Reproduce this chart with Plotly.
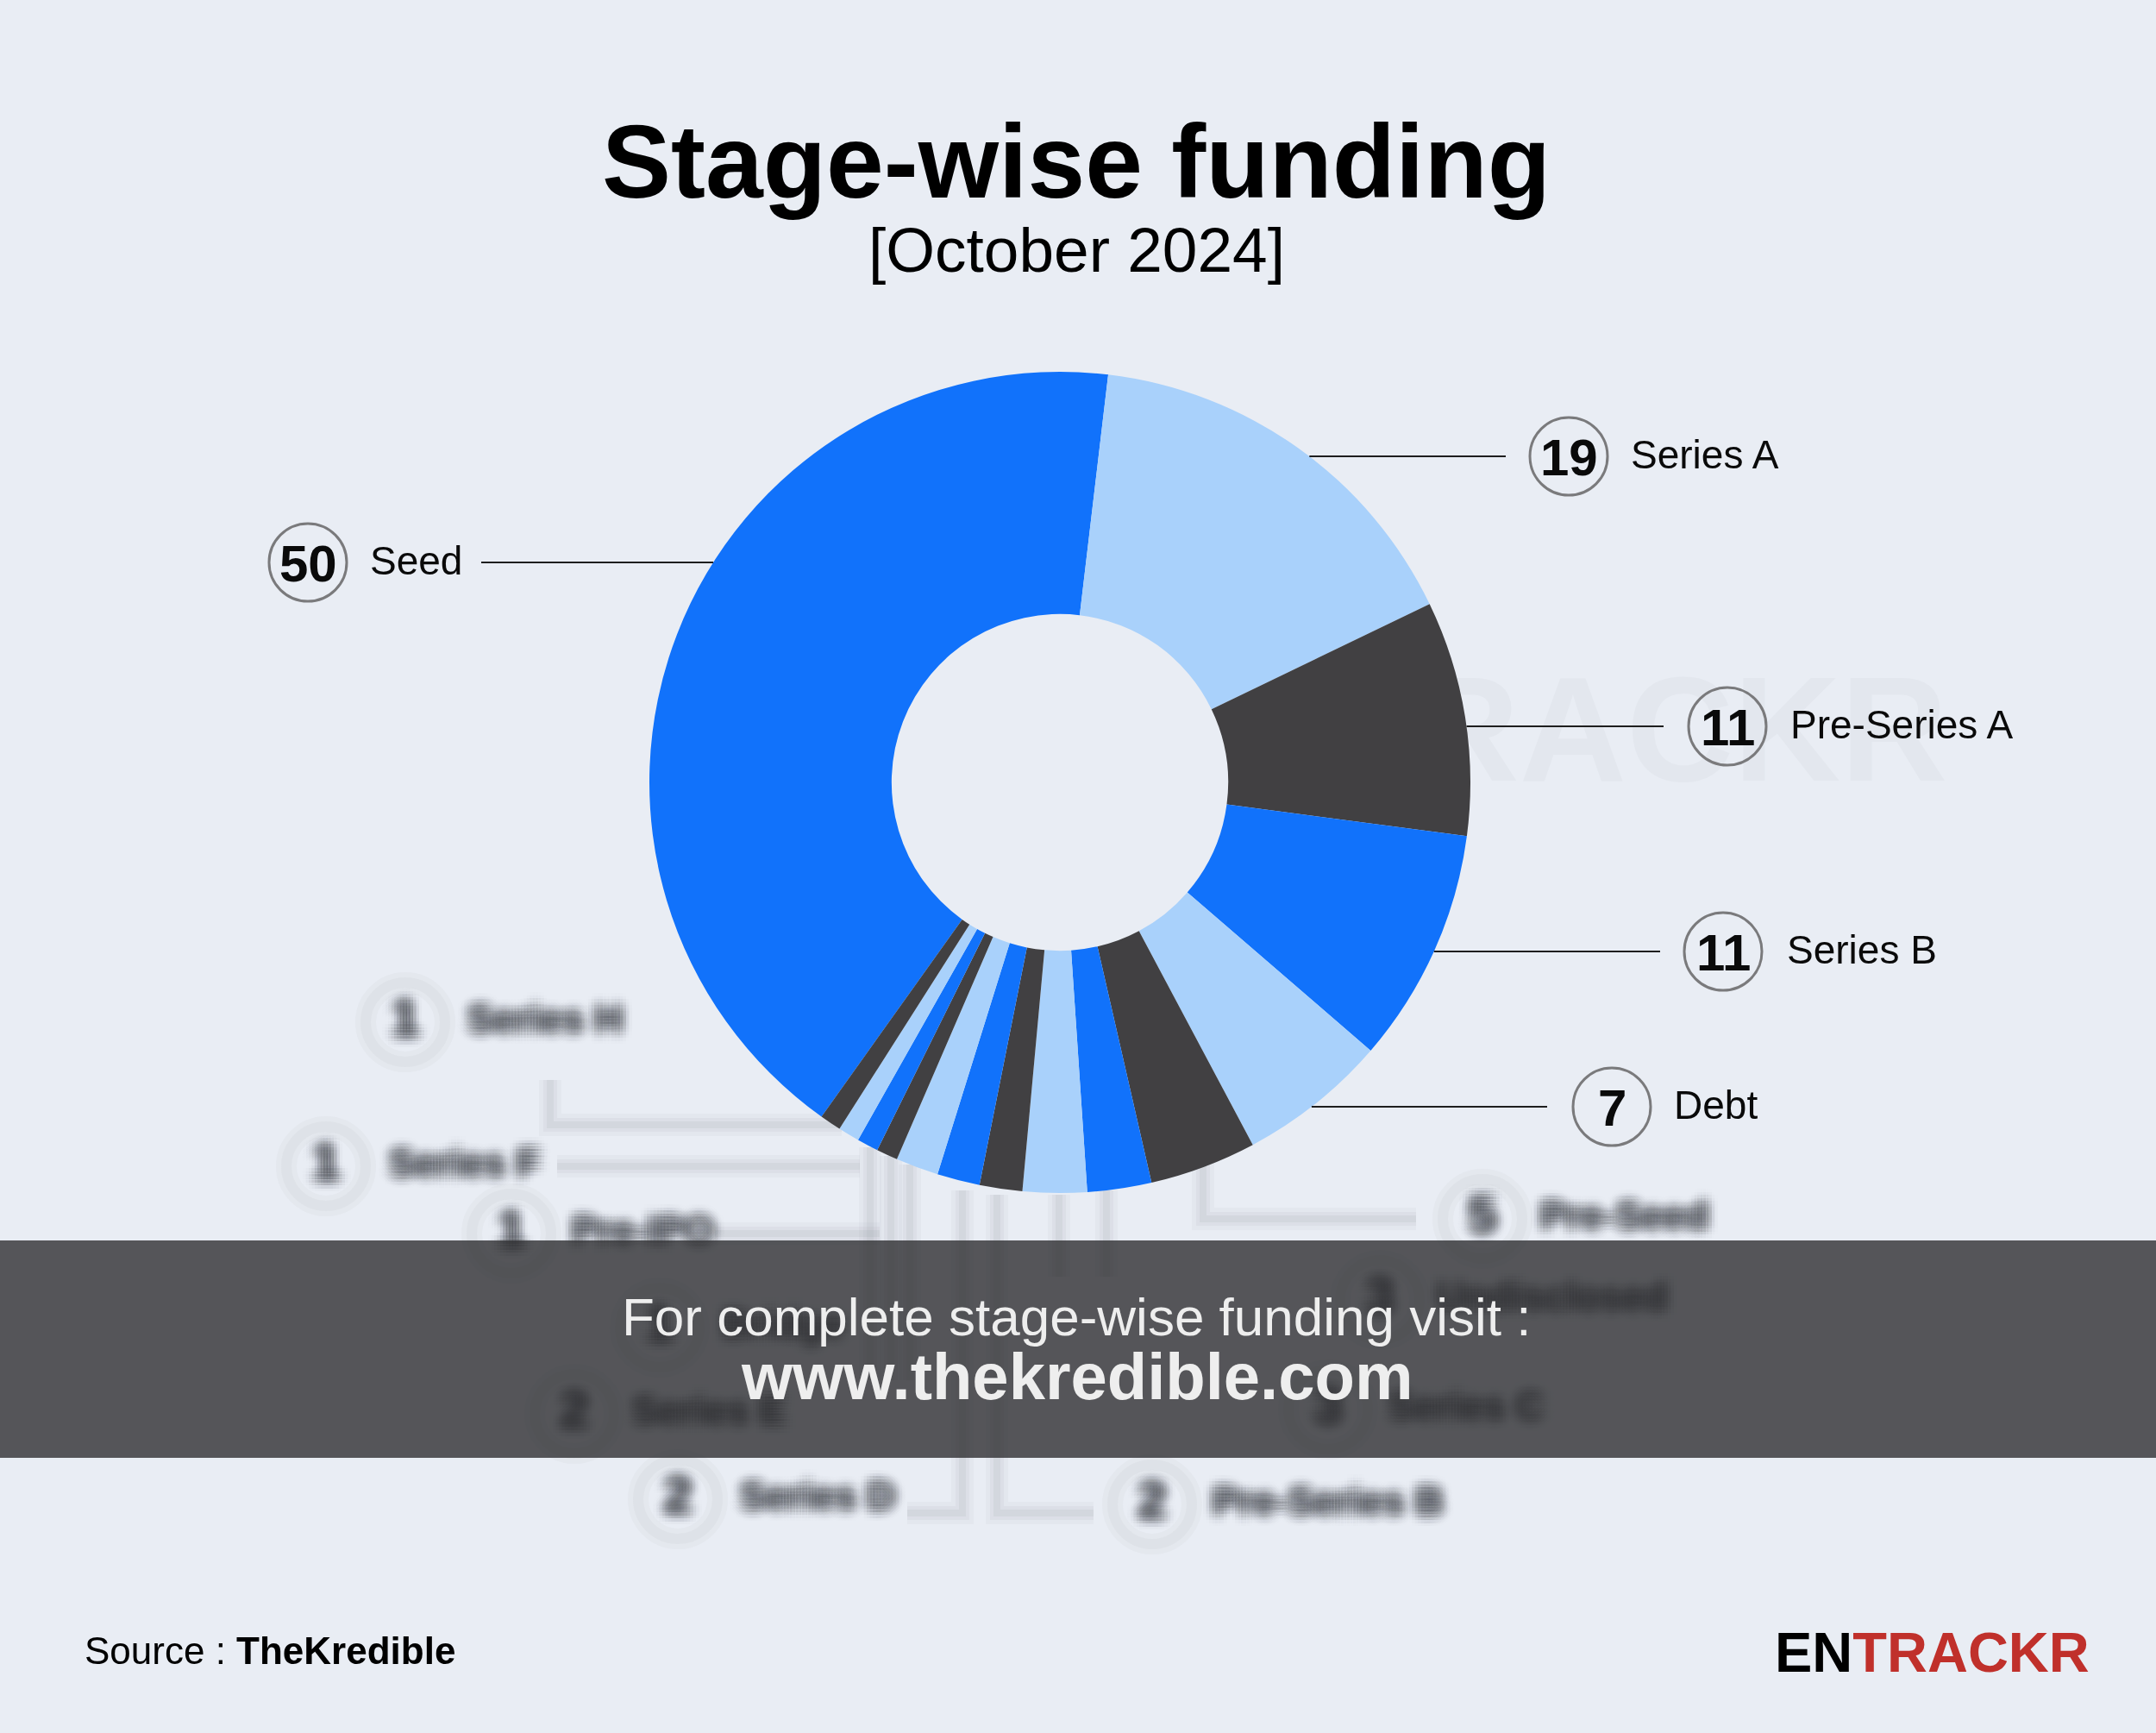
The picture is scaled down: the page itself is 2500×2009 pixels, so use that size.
import math
import plotly.graph_objects as go

# ---------------- data ----------------
stages = ["Seed", "Series A", "Pre-Series A", "Series B", "Debt",
          "Pre-Seed", "Undisclosed", "Series C", "Pre-Series B", "Series D",
          "Series E", "Bridge", "Pre-IPO", "Series F", "Series H"]
deals = [50, 19, 11, 11, 7, 5, 3, 3, 2, 2, 2, 1, 1, 1, 1]

title_text = "Stage-wise funding"
subtitle_text = "[October 2024]"
banner_line1 = "For complete stage-wise funding visit :"
banner_line2 = "www.thekredible.com"
source_label = "Source : "
source_name = "TheKredible"
brand_a, brand_b = "EN", "TRACKR"

# ---------------- style / layout ----------------
W, H = 2500, 2009
BG = "#E9EDF4"
BLUE = "#1172FB"
LIGHT = "#A9D1FB"
DARK = "#414042"
palette = [BLUE, LIGHT, DARK]
slice_colors = [palette[i % 3] for i in range(len(stages))]
FONT = "Liberation Sans, Arial, sans-serif"

CX, CY, R = 1229, 907, 476          # donut centre / radius in page pixels
HOLE = 0.41
ROT = 215.5                          # first slice start angle (clockwise from top)

# label placement for the five highlighted stages: (label y, line end x, circle x, text x, side)
main_label_pos = {
    "Seed":         (652, 558, 357, 427, -1),
    "Series A":     (529, 1746, 1819, 1889, 1),
    "Pre-Series A": (842, 1929, 2003, 2074, 1),
    "Series B":     (1103, 1925, 1998, 2070, 1),
    "Debt":         (1283, 1794, 1869, 1939, 1),
}
# blurred label placement for the remaining stages: (circle x, y, text x)
blur_label_pos = {
    "Pre-Seed":     (1719, 1413, 1786),
    "Undisclosed":  (1600, 1507, 1666),
    "Series C":     (1540, 1634, 1610),
    "Pre-Series B": (1336, 1744, 1406),
    "Series D":     (786, 1738, 858),
    "Series E":     (666, 1639, 733),
    "Bridge":       (765, 1539, 837),
    "Pre-IPO":      (593, 1430, 663),
    "Series F":     (378, 1352, 451),
    "Series H":     (470, 1185, 542),
}
blur_lines = [
    [(638, 1252), (638, 1304), (976, 1304)],
    [(646, 1352), (997, 1352)],
    [(829, 1430), (1020, 1430)],
    [(1009, 1330), (1009, 1600)],
    [(1033, 1340), (1033, 1600)],
    [(1055, 1350), (1055, 1600)],
    [(1052, 1754), (1116, 1754), (1116, 1380)],
    [(1156, 1385), (1156, 1754), (1268, 1754)],
    [(1395, 1339), (1395, 1413), (1642, 1413)],
    [(1228, 1385), (1228, 1480)],
    [(1283, 1380), (1283, 1480)],
]

fig = go.Figure()

# ---- background decorations on the cartesian layer (drawn below the pie) ----
fig.add_trace(go.Scatter(
    x=[1776], y=[862], mode="text", text=[f"<b>{brand_a}{brand_b}</b>"],
    textfont=dict(family=FONT, size=172, color="#E3E7EE"),
    hoverinfo="skip", showlegend=False))
# opaque centre so the watermark does not show through the donut hole
fig.add_trace(go.Scatter(
    x=[CX], y=[CY], mode="markers",
    marker=dict(size=2 * HOLE * R + 4, color=BG, line=dict(width=0)),
    hoverinfo="skip", showlegend=False))

for pts in blur_lines:
    xs = [p[0] for p in pts]
    ys = [p[1] for p in pts]
    for wdt, alpha in [(26, 0.06), (16, 0.08), (8, 0.10)]:
        fig.add_trace(go.Scatter(x=xs, y=ys, mode="lines",
                                 line=dict(color=f"rgba(140,143,150,{alpha})", width=wdt),
                                 hoverinfo="skip", showlegend=False))

blur_names = [n for n in stages if n in blur_label_pos]
blur_vals = [v for n, v in zip(stages, deals) if n in blur_label_pos]
bcx = [blur_label_pos[n][0] for n in blur_names]
bly = [blur_label_pos[n][1] for n in blur_names]
btx = [blur_label_pos[n][2] for n in blur_names]

for wdt, alpha in [(24, 0.06), (12, 0.07)]:
    fig.add_trace(go.Scatter(
        x=bcx, y=bly, mode="markers",
        marker=dict(symbol="circle-open", size=92, color=f"rgba(150,153,160,{alpha})",
                    line=dict(width=wdt)),
        hoverinfo="skip", showlegend=False))

# soft, blurred-looking labels built from faint offset copies (gaussian weights)
sigma = 7.0
grid = [-14, -10.5, -7, -3.5, 0, 3.5, 7, 10.5, 14]
for dx in grid:
    for dy in grid:
        wgt = math.exp(-(dx * dx + dy * dy) / (2 * sigma * sigma))
        if wgt < 0.05:
            continue
        op = round(0.065 * wgt, 4)
        fig.add_trace(go.Scatter(
            x=[x + dx for x in bcx], y=[y + dy for y in bly], mode="text",
            text=[f"<b>{v}</b>" for v in blur_vals], textposition="middle center",
            textfont=dict(family=FONT, size=60, color="#2E3034"),
            opacity=op, hoverinfo="skip", showlegend=False))
        fig.add_trace(go.Scatter(
            x=[x + dx for x in btx], y=[y + dy for y in bly], mode="text",
            text=[f"<b>{n}</b>" for n in blur_names], textposition="middle right",
            textfont=dict(family=FONT, size=45, color="#2E3034"),
            opacity=op, hoverinfo="skip", showlegend=False))

# ---- donut ----
fig.add_trace(go.Pie(
    labels=stages, values=deals, sort=False, direction="clockwise",
    rotation=ROT, hole=HOLE, textinfo="none", hoverinfo="label+value",
    marker=dict(colors=slice_colors, line=dict(width=0)),
    domain=dict(x=[(CX - R) / W, (CX + R) / W],
                y=[(H - CY - R) / H, (H - CY + R) / H]),
    showlegend=False))

shapes = []
annotations = []

# ---- main labels with leader lines ----
for name, val in zip(stages, deals):
    if name not in main_label_pos:
        continue
    ly, lend, ccx, tx, side = main_label_pos[name]
    edge = CX + side * math.sqrt(R ** 2 - (ly - CY) ** 2)
    shapes.append(dict(type="line", xref="x", yref="y", x0=edge, x1=lend, y0=ly, y1=ly,
                       line=dict(color="#1E1E1E", width=2), layer="above"))
    shapes.append(dict(type="circle", xref="x", yref="y",
                       x0=ccx - 45, x1=ccx + 45, y0=ly - 45, y1=ly + 45,
                       line=dict(color="#7A7A7C", width=3), fillcolor="rgba(0,0,0,0)",
                       layer="above"))
    annotations.append(dict(x=ccx, y=ly + 1, xref="x", yref="y", text=f"<b>{val}</b>",
                            showarrow=False, xanchor="center", yanchor="middle",
                            font=dict(family=FONT, size=60, color="#0A0A0A")))
    annotations.append(dict(x=tx, y=ly - 2, xref="x", yref="y", text=name,
                            showarrow=False, xanchor="left", yanchor="middle",
                            font=dict(family=FONT, size=46, color="#0A0A0A")))

# ---- banner ----
shapes.append(dict(type="rect", xref="x", yref="y", x0=0, x1=W, y0=1438, y1=1690,
                   fillcolor="rgba(44,45,47,0.79)", line=dict(width=0), layer="above"))
annotations.append(dict(x=1248, y=1526, xref="x", yref="y", text=banner_line1,
                        showarrow=False, xanchor="center", yanchor="middle",
                        font=dict(family=FONT, size=62, color="#EEEEEE")))
annotations.append(dict(x=1248, y=1595, xref="x", yref="y", text=f"<b>{banner_line2}</b>",
                        showarrow=False, xanchor="center", yanchor="middle",
                        font=dict(family=FONT, size=76, color="#EEEEEE")))

# ---- titles ----
annotations.append(dict(x=1248, y=187, xref="x", yref="y", text=f"<b>{title_text}</b>",
                        showarrow=False, xanchor="center", yanchor="middle",
                        font=dict(family=FONT, size=120, color="#000000")))
annotations.append(dict(x=1248, y=289, xref="x", yref="y", text=subtitle_text,
                        showarrow=False, xanchor="center", yanchor="middle",
                        font=dict(family=FONT, size=73, color="#000000")))

# ---- source & logo ----
annotations.append(dict(x=96, y=1913, xref="x", yref="y",
                        text=f"{source_label}<b>{source_name}</b>",
                        showarrow=False, xanchor="left", yanchor="middle",
                        font=dict(family=FONT, size=44, color="#000000")))
annotations.append(dict(x=2425, y=1915, xref="x", yref="y",
                        text=f"<b>{brand_a}<span style='color:#C0302B'>{brand_b}</span></b>",
                        showarrow=False, xanchor="right", yanchor="middle",
                        font=dict(family=FONT, size=65, color="#000000")))

fig.update_layout(
    width=W, height=H,
    margin=dict(l=0, r=0, t=0, b=0),
    paper_bgcolor=BG, plot_bgcolor=BG,
    xaxis=dict(range=[0, W], visible=False, fixedrange=True, domain=[0, 1]),
    yaxis=dict(range=[H, 0], visible=False, fixedrange=True, domain=[0, 1]),
    shapes=shapes, annotations=annotations,
    showlegend=False,
)

fig.write_html(
    "out.html",
    config={"displayModeBar": False},
    post_script="document.body.style.margin='0px';"
                "document.body.style.padding='0px';"
                "document.body.style.background='" + BG + "';",
)
